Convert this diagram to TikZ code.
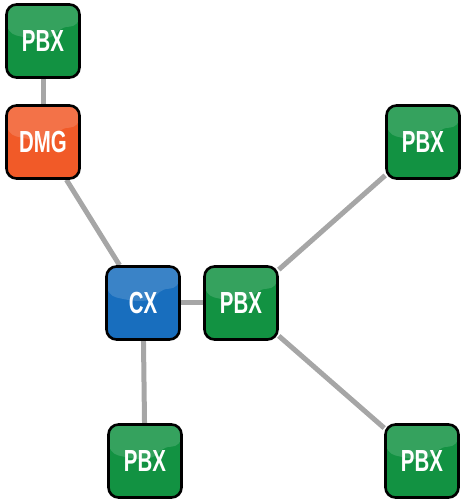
\documentclass[tikz,border=0pt]{standalone}
\usepackage{fontspec}
\newfontfamily\labfont{Liberation Sans}
\usetikzlibrary{backgrounds}
\definecolor{pbxgreen}{RGB}{18,146,66}
\definecolor{dmgorange}{RGB}{241,90,40}
\definecolor{cxblue}{RGB}{24,110,190}
\definecolor{linkgray}{RGB}{166,166,166}
\tikzset{
  dev/.style={draw=black, line width=2.6pt, rounded corners=10pt,
    minimum width=73pt, minimum height=73pt, inner sep=0pt,
    text=white, font=\labfont\bfseries\fontsize{30.5}{30.5}\selectfont,
    fill=#1,
    path picture={
      \fill[white, opacity=0.15]
        ([yshift=8pt]path picture bounding box.west)
        .. controls ([xshift=20pt,yshift=-6pt]path picture bounding box.center)
        and ([xshift=8pt,yshift=14pt]path picture bounding box.center)
        .. ([yshift=-22pt]path picture bounding box.north east)
        -- (path picture bounding box.north east)
        -- (path picture bounding box.north west) -- cycle;
    }},
  link/.style={draw=linkgray, line width=5pt}
}
\newcommand{\lbl}[1]{\raisebox{-1.5pt}{\scalebox{0.67}[1]{#1}}}
\begin{document}
\begin{tikzpicture}[x=1pt,y=1pt]
\useasboundingbox (0,0) rectangle (461,499);
\node[dev=pbxgreen] (p1) at (43,458) {\lbl{PBX}};
\node[dev=dmgorange] (dmg) at (43,357) {\lbl{DMG}};
\node[dev=cxblue] (cx) at (143,196) {\lbl{CX}};
\node[dev=pbxgreen] (pc) at (241,196) {\lbl{PBX}};
\node[dev=pbxgreen] (prt) at (423,357) {\lbl{PBX}};
\node[dev=pbxgreen] (pbl) at (145,38) {\lbl{PBX}};
\node[dev=pbxgreen] (pbr) at (422,38) {\lbl{PBX}};
\begin{scope}[on background layer]
\draw[link] (p1) -- (dmg);
\draw[link] (dmg) -- (cx);
\draw[link] (cx) -- (pc);
\draw[link] (cx.center) -- (pbl.center);
\draw[link] (pc) -- (prt);
\draw[link] (pc) -- (pbr);
\end{scope}
\end{tikzpicture}
\end{document}
